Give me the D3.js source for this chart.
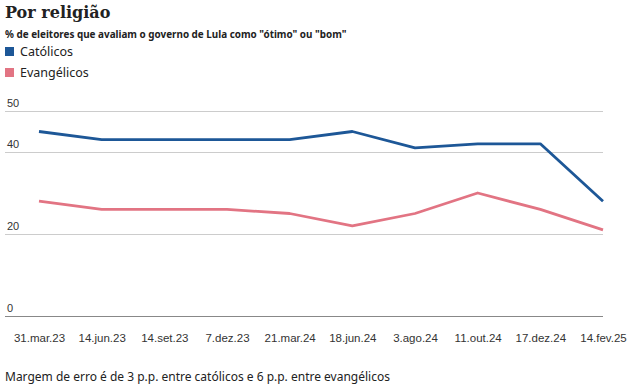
<!DOCTYPE html>
<html>
<head>
<meta charset="utf-8">
<title>Por religião</title>
<script src="https://d3js.org/d3.v7.min.js"></script>
<style>
	body { margin: 0; background: #fff; font-family: "Noto Sans", sans-serif; }
	.title { font-family: "DejaVu Serif", serif; font-weight: bold; font-size: 16px; fill: #222; }
	.sub { font-weight: bold; font-size: 9.9px; fill: #222; }
	.leg { font-size: 12.5px; fill: #222; }
	.tick text { font-size: 11px; fill: #333; }
	.foot { font-size: 12px; fill: #222; }
</style>
</head>
<body>
<script>
	// data
	var dates = ["31.mar.23","14.jun.23","14.set.23","7.dez.23","21.mar.24","18.jun.24","3.ago.24","11.out.24","17.dez.24","14.fev.25"];
	var catolicos = [45, 43, 43, 43, 43, 45, 41, 42, 42, 28];
	var evangelicos = [28, 26, 26, 26, 25, 22, 25, 30, 26, 21];
	var yTicks = [0, 20, 40, 50];

	var width = 633, height = 385;

	var svg = d3.select("body").append("svg")
		.attr("width", width)
		.attr("height", height);

	svg.append("text").attr("class", "title").attr("x", 5).attr("y", 18).text("Por religião");
	svg.append("text").attr("class", "sub").attr("x", 5).attr("y", 38)
		.text("% de eleitores que avaliam o governo de Lula como \"ótimo\" ou \"bom\"");

	var series = [
		{ name: "Católicos", values: catolicos, color: "#1d5797" },
		{ name: "Evangélicos", values: evangelicos, color: "#e27483" }
	];

	var leg = svg.selectAll(".legitem").data(series).enter().append("g")
		.attr("transform", function(d, i) { return "translate(5," + (47 + i * 21) + ")"; });
	leg.append("rect").attr("width", 9).attr("height", 9).attr("fill", function(d) { return d.color; });
	leg.append("text").attr("class", "leg").attr("x", 15).attr("y", 9).text(function(d) { return d.name; });

	var x = d3.scalePoint().domain(dates).range([39, 603]);
	var y = d3.scaleLinear().domain([0, 50]).range([316, 111]);

	// grid + y labels
	var yAxis = svg.append("g").attr("transform", "translate(5,0)")
		.call(d3.axisRight(y).tickValues(yTicks).tickSize(598).tickFormat(d3.format("d")));
	yAxis.select(".domain").remove();
	yAxis.selectAll(".tick line").attr("stroke", function(d) { return d === 0 ? "#888" : "#ccc"; });
	yAxis.selectAll(".tick text").attr("x", 2).attr("dy", -5).attr("text-anchor", "start")
		.attr("dominant-baseline", "auto").attr("y", 0);

	// x labels
	var xAxis = svg.append("g").attr("transform", "translate(0,316)")
		.call(d3.axisBottom(x).tickSize(0).tickPadding(18));
	xAxis.select(".domain").remove();
	xAxis.selectAll(".tick text").style("font-size", "11.5px").attr("fill", "#222");

	var line = d3.line()
		.x(function(d, i) { return x(dates[i]); })
		.y(function(d) { return y(d); });

	svg.selectAll(".serie").data(series).enter().append("path")
		.attr("fill", "none")
		.attr("stroke", function(d) { return d.color; })
		.attr("stroke-width", 2.8)
		.attr("stroke-linejoin", "round")
		.attr("d", function(d) { return line(d.values); });

	svg.append("text").attr("class", "foot").attr("x", 5).attr("y", 381)
		.text("Margem de erro é de 3 p.p. entre católicos e 6 p.p. entre evangélicos");
</script>
</body>
</html>
